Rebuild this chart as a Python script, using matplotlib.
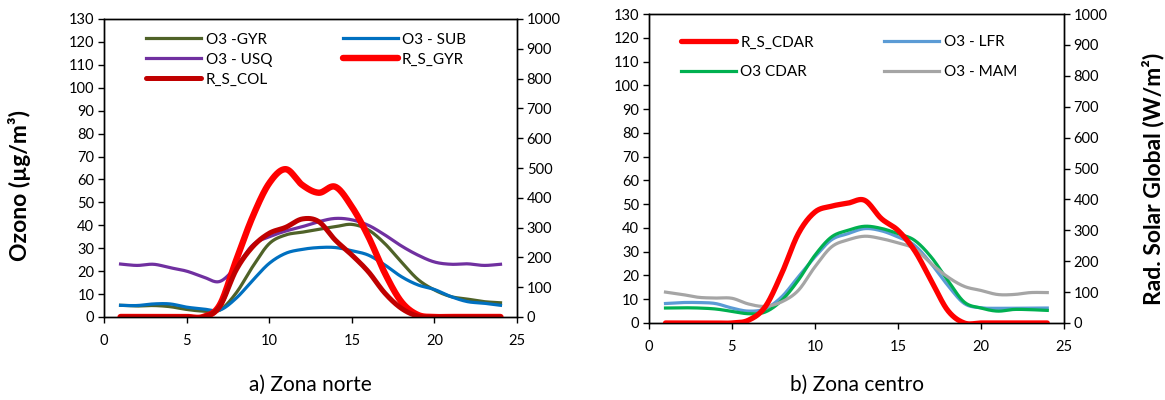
import numpy as np
import matplotlib
matplotlib.use("Agg")
import matplotlib.pyplot as plt

plt.rcParams['font.family'] = ['Lato', 'DejaVu Sans']

hours = list(range(1, 25))

# Zona norte: ozone (µg/m³) and global solar radiation (W/m²)
o3_gyr = [5.1, 4.8, 5.0, 4.5, 3.3, 2.6, 3.0, 10.5, 22.0, 32.0, 35.8, 37.0,
          38.3, 39.4, 40.4, 38.0, 32.0, 24.0, 16.4, 11.8, 8.9, 7.8, 6.7, 6.2]
o3_sub = [5.1, 5.0, 5.7, 5.7, 4.3, 3.5, 3.0, 8.2, 16.0, 23.4, 27.8, 29.5,
          30.3, 30.3, 28.9, 27.0, 22.7, 17.6, 14.0, 12.0, 8.9, 6.7, 6.0, 5.1]
o3_usq = [23.1, 22.5, 23.0, 21.5, 20.0, 17.5, 15.5, 22.0, 31.4, 35.0, 37.5, 39.4,
          41.6, 43.0, 42.4, 40.0, 35.8, 31.0, 27.0, 24.0, 23.0, 23.2, 22.5, 23.0]
rs_gyr = [0, 0, 0, 0, 0, 0, 40, 191, 337, 449, 496, 443,
          417, 437, 370, 270, 147, 51, 7, 0, 0, 0, 0, 0]
rs_col = [0, 0, 0, 0, 0, 0, 35, 158, 236, 281, 301, 329,
          320, 258, 208, 152, 80, 29, 3, 0, 0, 0, 0, 0]

# Zona centro
rs_cdar = [0, 0, 0, 0, 0, 9, 52, 160, 289, 359, 378, 388,
           397, 338, 300, 235, 138, 41, 0, 0, 0, 0, 0, 0]
o3_lfr = [8.2, 8.6, 8.6, 8.2, 6.3, 5.0, 6.0, 11.0, 19.4, 27.8, 35.0, 37.6,
          39.7, 38.8, 36.2, 32.7, 25.0, 15.9, 8.2, 6.4, 6.2, 6.2, 6.3, 6.3]
o3_cdar = [6.3, 6.4, 6.3, 5.9, 4.9, 3.9, 4.6, 9.5, 18.0, 28.5, 36.2, 39.0,
           40.7, 39.8, 37.6, 34.8, 27.8, 18.0, 8.8, 6.3, 5.0, 5.7, 5.6, 5.3]
o3_mam = [13.0, 12.0, 10.8, 10.5, 10.4, 8.0, 7.0, 8.9, 13.7, 23.6, 32.0, 35.0,
          36.5, 35.5, 33.7, 31.3, 25.0, 19.4, 15.4, 13.7, 12.0, 12.0, 12.8, 12.8]

ozone_ticks = list(range(0, 131, 10))
rad_ticks = list(range(0, 1001, 100))
hour_ticks = list(range(0, 26, 5))


def smooth(x, y, n=24):
    """Catmull-Rom curve through the points, like a smoothed spreadsheet line."""
    x = np.asarray(x, float)
    y = np.asarray(y, float)
    px = np.concatenate([[2 * x[0] - x[1]], x, [2 * x[-1] - x[-2]]])
    py = np.concatenate([[2 * y[0] - y[1]], y, [2 * y[-1] - y[-2]]])
    xs, ys = [], []
    t = np.linspace(0, 1, n, endpoint=False)
    for i in range(1, len(px) - 2):
        p0, p1, p2, p3 = (np.array([px[j], py[j]]) for j in (i - 1, i, i + 1, i + 2))
        t2, t3 = t * t, t * t * t
        pts = 0.5 * ((2 * p1)[:, None]
                     + (-p0 + p2)[:, None] * t
                     + (2 * p0 - 5 * p1 + 4 * p2 - p3)[:, None] * t2
                     + (-p0 + 3 * p1 - 3 * p2 + p3)[:, None] * t3)
        xs.extend(pts[0])
        ys.extend(pts[1])
    xs.append(x[-1])
    ys.append(y[-1])
    return np.array(xs), np.array(ys)


def style_axes(ax, ax2):
    ax.set_xlim(0, 25)
    ax.set_ylim(0, 130)
    ax2.set_ylim(0, 1000)
    ax.set_xticks(hour_ticks)
    ax.set_yticks(ozone_ticks)
    ax2.set_yticks(rad_ticks)
    for a in (ax, ax2):
        a.tick_params(direction='out', length=4, width=1, labelsize=10.5,
                      colors='black', pad=3)
        for s in a.spines.values():
            s.set_color('black')
            s.set_linewidth(1)
    ax.tick_params(axis='x', pad=8)


fig = plt.figure(figsize=(11.65, 4.0), dpi=100)

# ---- a) Zona norte ----
ax1 = fig.add_axes([0.0893, 0.2075, 0.3545, 0.745])
ax1b = ax1.twinx()
l_gyr, = ax1.plot(*smooth(hours, o3_gyr), color='#4F6228', lw=2.3, label='O3 -GYR')
l_sub, = ax1.plot(*smooth(hours, o3_sub), color='#0070C0', lw=2.3, label='O3 - SUB')
l_usq, = ax1.plot(*smooth(hours, o3_usq), color='#7030A0', lw=2.3, label='O3 - USQ')
l_rsg, = ax1b.plot(*smooth(hours, rs_gyr), color='#FF0000', lw=4.6,
                   solid_capstyle='round', label='R_S_GYR')
l_rsc, = ax1b.plot(*smooth(hours, rs_col), color='#C00000', lw=3.6,
                   solid_capstyle='round', label='R_S_COL')
style_axes(ax1, ax1b)
ax1.set_ylabel('Ozono (µg/m³)', fontsize=16.5, fontweight='bold',
               ha='center', va='center')
ax1.yaxis.set_label_coords(-0.205, 0.44)
ax1.legend([l_gyr, l_usq, l_rsc, l_sub, l_rsg],
           ['O3 -GYR', 'O3 - USQ', 'R_S_COL', 'O3 - SUB', 'R_S_GYR'],
           ncol=2, loc='upper left', bbox_to_anchor=(0.065, 1.005), frameon=False,
           fontsize=11, handlelength=3.6, handletextpad=0.3,
           columnspacing=4.6, labelspacing=0.38, borderaxespad=0.6)

# ---- b) Zona centro ----
ax2 = fig.add_axes([0.557, 0.1925, 0.3562, 0.7725])
ax2b = ax2.twinx()
r_lfr, = ax2.plot(*smooth(hours, o3_lfr), color='#5B9BD5', lw=2.3, label='O3 - LFR')
r_cdar, = ax2.plot(*smooth(hours, o3_cdar), color='#00B050', lw=2.3, label='O3 CDAR')
r_mam, = ax2.plot(*smooth(hours, o3_mam), color='#A5A5A5', lw=2.3, label='O3 - MAM')
r_rs, = ax2b.plot(*smooth(hours, rs_cdar), color='#FF0000', lw=3.8,
                  solid_capstyle='round', label='R_S_CDAR')
style_axes(ax2, ax2b)
ax2b.set_ylabel('Rad. Solar Global (W/m²)', fontsize=16.5, fontweight='bold',
                ha='center', va='center')
ax2b.yaxis.set_label_coords(1.214, 0.466)
ax2.legend([r_rs, r_cdar, r_lfr, r_mam],
           ['R_S_CDAR', 'O3 CDAR', 'O3 - LFR', 'O3 - MAM'],
           ncol=2, loc='upper left', bbox_to_anchor=(0.04, 0.98), frameon=False,
           fontsize=11, handlelength=3.6, handletextpad=0.3,
           columnspacing=4.6, labelspacing=1.05, borderaxespad=0.6)

fig.text(310 / 1165, 1 - 385 / 400, 'a) Zona norte', ha='center', va='center',
         fontsize=15)
fig.text(857 / 1165, 1 - 385 / 400, 'b) Zona centro', ha='center', va='center',
         fontsize=15)

fig.savefig('out.png', dpi=100)
